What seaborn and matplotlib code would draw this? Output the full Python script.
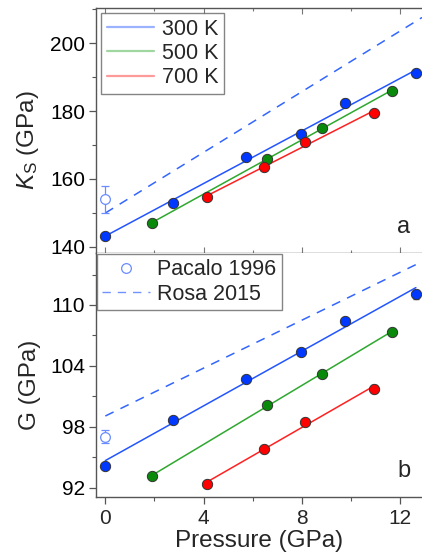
import matplotlib
matplotlib.use("Agg")
import matplotlib.pyplot as plt
import seaborn as sns
import numpy as np
from matplotlib.lines import Line2D
from matplotlib.ticker import MultipleLocator, FixedLocator

# data
p_300 = [0.0, 2.77, 5.71, 7.98, 9.76, 12.65]
p_500 = [1.91, 6.59, 8.81, 11.67]
p_700 = [4.14, 6.47, 8.13, 10.94]

ks_300 = [143.1, 153.0, 166.3, 173.3, 182.3, 191.2]
ks_500 = [147.0, 165.9, 175.0, 185.9]
ks_700 = [154.5, 163.6, 170.9, 179.4]

g_300 = [94.17, 98.64, 102.68, 105.40, 108.43, 111.05]
g_500 = [93.15, 100.18, 103.20, 107.34]
g_700 = [92.36, 95.84, 98.50, 101.76]

ks_300_err = [0.4, 0.4, 0.5, 0.6, 1.2, 0.6]
g_300_err = [0.15, 0.15, 0.15, 0.2, 0.25, 0.45]
g_700_err = [0.15, 0.15, 0.2, 0.35]

pacalo_p = [0.0]
pacalo_ks = [153.9]
pacalo_ks_err = [4.1]
pacalo_g = [97.03]
pacalo_g_err = [0.65]

rosa_p = [0.0, 12.9]
rosa_ks = [149.9, 207.6]
rosa_g = [99.06, 114.27]

labels = ["300 K", "500 K", "700 K"]
g_ticks = [92, 98, 104, 110]
g_minor = [95, 101, 107, 113]

marker_colors = ["#0038ff", "#0a8a0a", "#ff0000"]
line_colors = ["#2255ff", "#2ea82e", "#ff2020"]
ref_color = "#3366ff"

sns.set_theme(style="ticks")
plt.rcParams["font.family"] = ["Liberation Sans", "DejaVu Sans"]
plt.rcParams["mathtext.fontset"] = "custom"
plt.rcParams["mathtext.rm"] = "Liberation Sans"
plt.rcParams["mathtext.it"] = "Liberation Sans:italic"

fig = plt.figure(figsize=(4.22, 5.60), dpi=100)
ax1 = fig.add_axes([0.2275, 0.5482, 0.7725, 0.4375])
ax2 = fig.add_axes([0.2275, 0.1125, 0.7725, 0.4357])


def draw_panel(ax, pressures, values, errs):
    for i, (p, v) in enumerate(zip(pressures, values)):
        sns.regplot(x=np.array(p), y=np.array(v), ax=ax, ci=None, truncate=True,
                    scatter_kws=dict(s=55, color=marker_colors[i], edgecolor="#333333",
                                     linewidths=0.7, zorder=4, alpha=1),
                    line_kws=dict(color=line_colors[i], lw=1.1, zorder=3))
        if errs[i] is not None:
            ax.errorbar(p, v, yerr=errs[i], fmt="none", ecolor="#555555",
                        elinewidth=0.8, capsize=2, zorder=2)


draw_panel(ax1, [p_300, p_500, p_700], [ks_300, ks_500, ks_700], [ks_300_err, None, None])
draw_panel(ax2, [p_300, p_500, p_700], [g_300, g_500, g_700], [g_300_err, None, g_700_err])

# literature values
for ax, val, err, ref in [(ax1, pacalo_ks, pacalo_ks_err, rosa_ks),
                          (ax2, pacalo_g, pacalo_g_err, rosa_g)]:
    ax.errorbar(pacalo_p, val, yerr=err, fmt="o", mfc="white", mec="#6a8cff",
                ecolor="#6a8cff", ms=7, mew=0.9, elinewidth=0.9, capsize=3, zorder=3)
    sns.lineplot(x=rosa_p, y=ref, ax=ax, color=ref_color, lw=1.1,
                 linestyle=(0, (6, 5)), zorder=2)

ax1.set_xlim(-0.38, 12.9)
ax2.set_xlim(-0.38, 12.9)
ax1.set_ylim(138.1, 210.4)
ax2.set_ylim(91.08, 115.12)

ax1.yaxis.set_major_locator(MultipleLocator(20))
ax1.yaxis.set_minor_locator(MultipleLocator(10))
ax2.yaxis.set_major_locator(FixedLocator(g_ticks))
ax2.yaxis.set_minor_locator(FixedLocator(g_minor))
for ax in (ax1, ax2):
    ax.xaxis.set_major_locator(MultipleLocator(4))
    ax.xaxis.set_minor_locator(MultipleLocator(2))
    ax.spines["right"].set_visible(False)
    for s in ax.spines.values():
        s.set_color("#555555")
        s.set_linewidth(1.0)
    ax.tick_params(axis="y", which="major", direction="out", length=5, width=0.9,
                   color="#555555", labelsize=15, pad=3, labelcolor="black")
    ax.tick_params(axis="y", which="minor", direction="out", length=3, width=0.8,
                   color="#555555")

ax1.tick_params(axis="x", which="both", direction="in", top=True, bottom=True,
                labelbottom=False, length=4, width=0.8, color="#777777")
ax1.tick_params(axis="x", which="minor", length=2)
ax2.spines["top"].set_visible(False)
ax2.tick_params(axis="x", which="major", direction="out", length=5, width=0.9,
                color="#555555", labelsize=15, pad=4)
ax2.tick_params(axis="x", which="minor", direction="out", length=3, width=0.8,
                color="#555555")

ax1.set_xlabel("")
ax1.set_ylabel(r"$K_\mathrm{S}$ (GPa)", fontsize=17.5)
ax2.set_ylabel("G (GPa)", fontsize=17.5)
ax2.set_xlabel("Pressure (GPa)", fontsize=17.5, labelpad=1)
ax1.yaxis.set_label_coords(-0.17, 0.46)
ax2.yaxis.set_label_coords(-0.17, 0.46)

ax1.text(0.965, 0.06, "a", transform=ax1.transAxes, fontsize=17, ha="right", va="bottom")
ax2.text(0.965, 0.06, "b", transform=ax2.transAxes, fontsize=17, ha="right", va="bottom")

leg_style = dict(loc="upper left", fontsize=15.5, frameon=True, fancybox=False,
                 edgecolor="#666666", handlelength=2.2, handletextpad=0.35,
                 labelspacing=0.15, borderpad=0.25)

temp_handles = [Line2D([], [], color=c, lw=1.6, alpha=0.45) for c in line_colors]
leg1 = ax1.legend(temp_handles, labels, borderaxespad=0.25, **leg_style)
leg1.get_frame().set_linewidth(1.0)

ref_handles = [Line2D([], [], marker="o", ls="none", mfc="white", mec="#6a8cff", ms=7, mew=0.9),
               Line2D([], [], color=ref_color, lw=1.0, linestyle=(0, (6, 5)), alpha=0.7)]
leg2 = ax2.legend(ref_handles, ["Pacalo 1996", "Rosa 2015"], borderaxespad=0.05, **leg_style)
leg2.get_frame().set_linewidth(1.0)

fig.savefig("out.png", dpi=100)
